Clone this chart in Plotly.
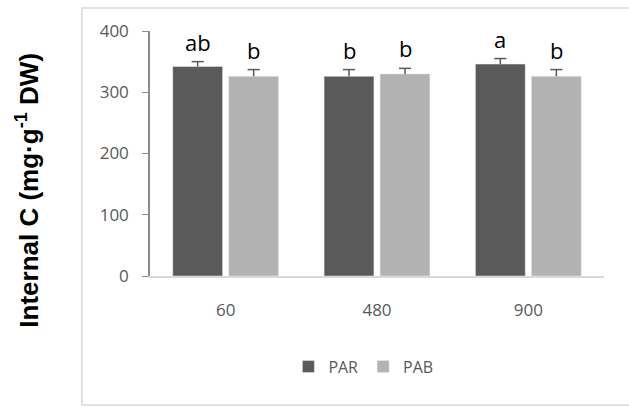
import plotly.graph_objects as go

categories = ["60", "480", "900"]
par_values = [342.0, 326.0, 346.0]
pab_values = [326.0, 330.0, 326.0]
par_err = [8.0, 11.0, 9.0]
pab_err = [11.0, 9.0, 11.0]
par_letters = ["ab", "b", "a"]
pab_letters = ["b", "b", "b"]
y_ticks = [0, 100, 200, 300, 400]

BARGAP = 0.26
BARGROUPGAP = 0.11
CAP_HALF = 0.04  # in category units

xpos = list(range(len(categories)))
slot = (1 - BARGAP) / 2
offsets = {"PAR": -slot / 2, "PAB": slot / 2}

fig = go.Figure()
fig.add_trace(go.Bar(x=xpos, y=par_values, name="PAR", marker_color="#5a5a5a"))
fig.add_trace(go.Bar(x=xpos, y=pab_values, name="PAB", marker_color="#b2b2b2"))


def err_trace(values, errs, off):
    xs, ys = [], []
    for i, v, e in zip(xpos, values, errs):
        xc = i + off
        xs += [xc, xc, None, xc - CAP_HALF, xc + CAP_HALF, None]
        ys += [v, v + e, None, v + e, v + e, None]
    return go.Scatter(x=xs, y=ys, mode="lines", line=dict(color="#595959", width=1.5),
                      showlegend=False, hoverinfo="skip")


fig.add_trace(err_trace(par_values, par_err, offsets["PAR"]))
fig.add_trace(err_trace(pab_values, pab_err, offsets["PAB"]))

annotations = []
for i in xpos:
    annotations.append(dict(x=i + offsets["PAR"], y=par_values[i] + par_err[i], xref="x", yref="y",
                            text=par_letters[i], showarrow=False, yshift=3,
                            yanchor="bottom", font=dict(family="Open Sans", size=22, color="#000000")))
    annotations.append(dict(x=i + offsets["PAB"], y=pab_values[i] + pab_err[i], xref="x", yref="y",
                            text=pab_letters[i], showarrow=False, yshift=3,
                            yanchor="bottom", font=dict(family="Open Sans", size=22, color="#000000")))

annotations.append(dict(x=-0.27, y=0.35, xref="paper", yref="paper", textangle=-90,
                        text="<b>Internal C (mg·g<sup>-1</sup> DW)</b>", showarrow=False,
                        xanchor="center", yanchor="middle",
                        font=dict(family="Liberation Sans", size=26, color="#000000")))

fig.update_layout(
    width=629, height=407,
    margin=dict(l=150, r=25, t=31, b=131),
    paper_bgcolor="white", plot_bgcolor="white",
    barmode="group", bargap=BARGAP, bargroupgap=BARGROUPGAP,
    showlegend=True,
    legend=dict(orientation="h", x=0.47, y=-0.37, xanchor="center", yanchor="middle",
                font=dict(family="Open Sans", size=16, color="#595959"),
                itemwidth=30, traceorder="normal"),
    annotations=annotations,
    shapes=[dict(type="rect", xref="paper", yref="paper", x0=-0.15, x1=1.2, y0=-0.527, y1=1.094,
                 line=dict(color="#d9d9d9", width=1.5), fillcolor="rgba(0,0,0,0)", layer="below")],
)
fig.update_xaxes(range=[-0.5, len(categories) - 0.5], tickvals=xpos, ticktext=categories,
                 showline=True, linecolor="#d9d9d9", linewidth=1.5, ticks="outside", ticklen=18,
                 tickcolor="rgba(0,0,0,0)", showgrid=False, zeroline=False,
                 tickfont=dict(family="Open Sans", size=17, color="#595959"))
fig.update_yaxes(range=[0, 400], tickvals=y_ticks, showline=True, linecolor="#8c8c8c", linewidth=1.5,
                 ticks="outside", ticklen=6, tickcolor="#8c8c8c", showgrid=False, zeroline=False,
                 tickfont=dict(family="Open Sans", size=17, color="#595959"), ticklabelstandoff=10)

fig.write_html("out.html")
